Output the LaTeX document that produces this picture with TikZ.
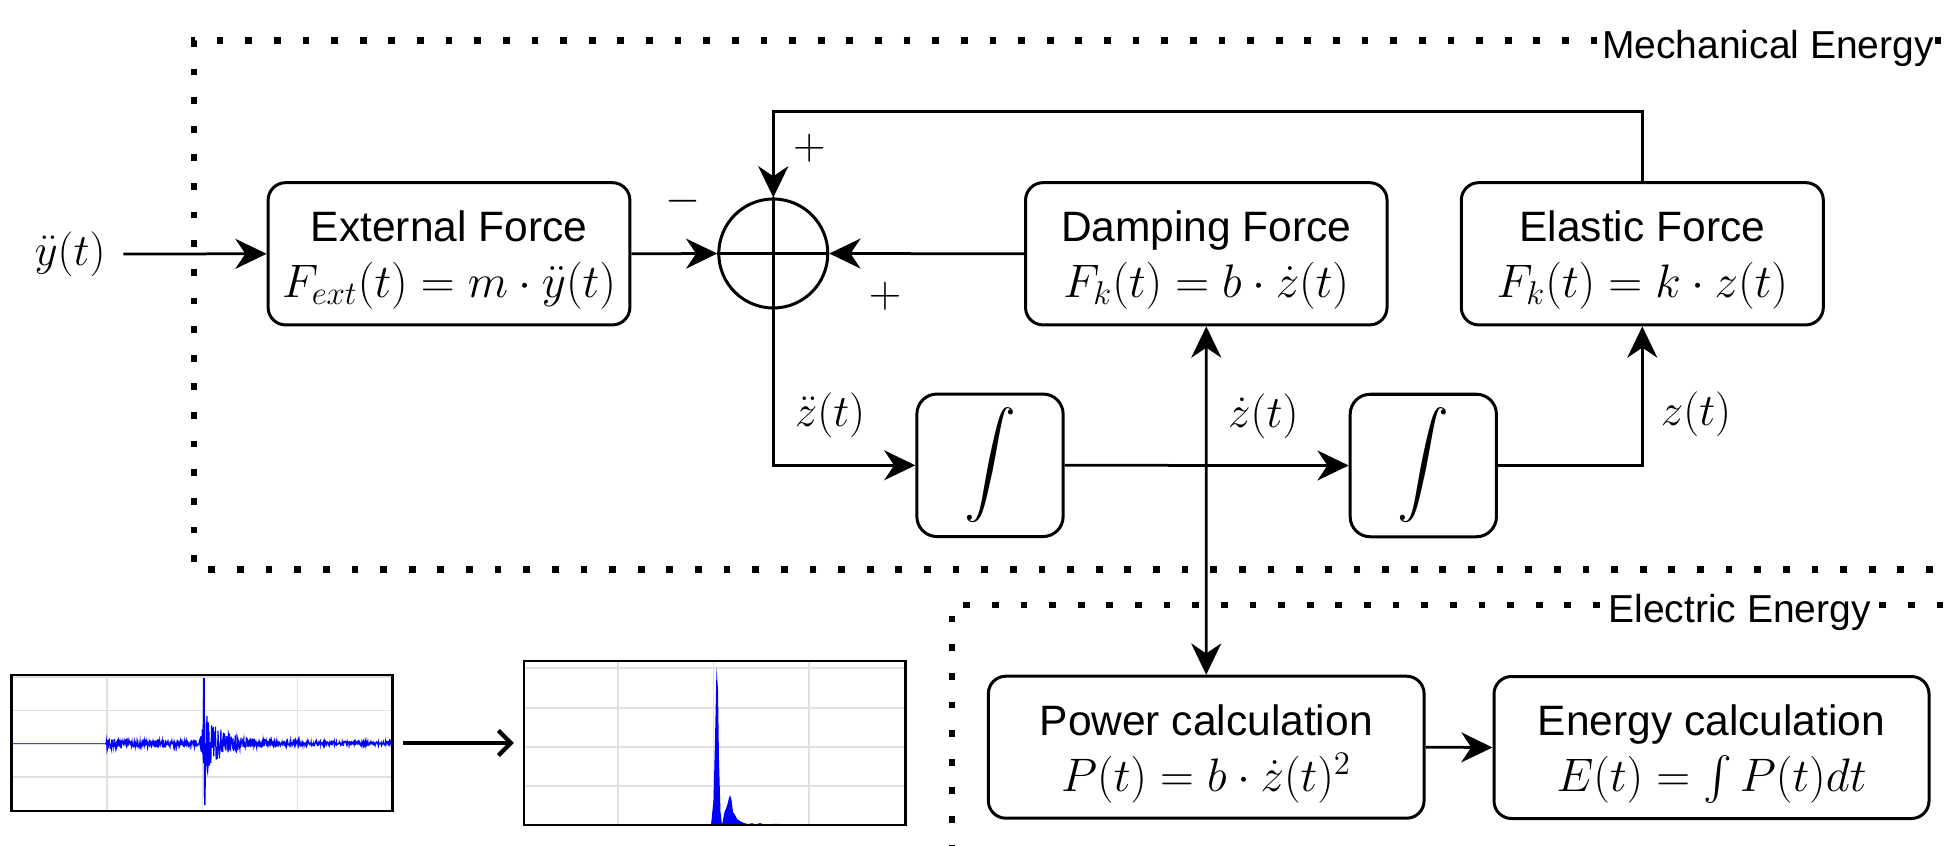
\RequirePackage{fix-cm}
\documentclass[tikz,border=0pt]{standalone}
\usepackage{amsmath}
\usepackage{fontspec}
\setmainfont{Liberation Sans}
\usetikzlibrary{arrows.meta,calc}
\newcommand\mth[1]{{\fontsize{18}{22.4}\selectfont$#1$}}
\newcommand\bmth[1]{{\fontsize{18.8}{22.4}\selectfont$#1$}}
\newcommand\tl{\rule{0pt}{17.5pt}}
\newcommand\intsym{{\fontsize{19.5}{24}\selectfont$\displaystyle\int$}}
\begin{document}
\begin{tikzpicture}[x=0.4pt,y=-0.4pt,
  blk/.style={draw, line width=1.2pt, rounded corners=7pt, align=center, inner sep=0pt,
              font=\fontsize{17}{22.4}\selectfont},
  intbox/.style={blk, rounded corners=8pt, minimum width=58.5pt, minimum height=57pt},
  con/.style={line width=1.1pt, -{Stealth[length=12.5pt,width=12pt,inset=4pt]}},
  con2/.style={line width=1.1pt, {Stealth[length=12.5pt,width=12pt,inset=4pt]}-{Stealth[length=12.5pt,width=12pt,inset=4pt]}},
  dotline/.style={line width=2.7pt, dash pattern=on 2.7pt off 8.75pt},
  gridln/.style={black!12, line width=0.7pt},
  mlab/.style={inner sep=0pt},
  elab/.style={fill=white, inner sep=0.6pt, font=\fontsize{15.6}{18}\selectfont, anchor=base},
  barb/.style={line width=1.7pt, -{Straight Barb[length=5pt,width=10pt]}}
]
\useasboundingbox (0,0) rectangle (1948,846);
\clip (0,0) rectangle (1948,846);

% energy domains
\draw[dotline] (1990,569.3) -- (194,569.3) -- (194,40.7) -- (1990,40.7);
\draw[dotline] (952,880) -- (952,605) -- (1990,605);
\node[elab] (mechlab) at (1768,58.3) {Mechanical Energy};
\node[elab] (eleclab) at (1739.7,622.7) {Electric Energy};

% blocks
\node[blk, minimum width=144.7pt, minimum height=56.9pt] (ext) at (449,253.8)
  {\tl External Force\\ \bmth{F_{ext}(t) = m\cdot\ddot{y}(t)}};
\node[blk, minimum width=144.6pt, minimum height=56.9pt] (damp) at (1206.3,253.8)
  {\tl Damping Force\\ \bmth{F_k(t) = b\cdot\dot{z}(t)}};
\node[blk, minimum width=144.8pt, minimum height=56.9pt] (ela) at (1642.3,253.8)
  {\tl Elastic Force\\ \bmth{F_k(t) = k\cdot z(t)}};
\node[draw, circle, line width=1.2pt, minimum size=43.6pt, inner sep=0pt] (sum) at (773.3,253.5) {};
\node[intbox] (int1) at (990,465.3) {\intsym};
\node[intbox] (int2) at (1423.3,465.5) {\intsym};
\node[blk, minimum width=174.3pt, minimum height=56.8pt] (pow) at (1206.2,747.2)
  {\tl Power calculation\\ \bmth{P(t) = b\cdot\dot{z}(t)^2}};
\node[blk, minimum width=174pt, minimum height=56.8pt] (en) at (1711.5,747.5)
  {\tl Energy calculation\\ \bmth{E(t) = \int P(t)dt}};

% input
\node[mlab] (yin) at (70,254) {\mth{\ddot{y}(t)}};

% summing junction cross
\draw[line width=1.1pt] (sum.north) -- (sum.south) (sum.west) -- (sum.east);

% connectors
\draw[con, shorten <=7pt] (yin.east) -- (ext.west);
\draw[con] (ext.east) -- (sum.west);
\draw[con] (damp.west) -- (sum.east);
\draw[con] (ela.north) -- ++(0,-69.4) -| (sum.north);
\draw[con] (sum.south) |- (int1.west);
\draw[con] (int1.east) -- (int2.west);
\draw[con] (int2.east) -| (ela.south);
\draw[con2] (damp.south) -- (pow.north);
\draw[con] (pow.east) -- (en.west);

% signs and signal labels
\node[mlab] (minus) at (683.3,201) {\mth{-}};
\node[mlab] (plustop) at (809.3,148.3) {\mth{+}};
\node[mlab] (plusbot) at (885,296.7) {\mth{+}};
\node[mlab] (zdd) at (830,415) {\mth{\ddot{z}(t)}};
\node[mlab] (zd) at (1263.3,416.7) {\mth{\dot{z}(t)}};
\node[mlab] (zz) at (1696,414.5) {\mth{z(t)}};

% plot 1 : seismogram
\foreach \gx in {107,202.5,297.5} \draw[gridln] (\gx,675) -- (\gx,811);
\foreach \gy in {677.3,710.6,744,777.3} \draw[gridln] (11.7,\gy) -- (392.7,\gy);
\draw[blue!75, line width=0.5pt] (11.7,743.3) -- (106,743.3);
\pgfmathsetseed{7}
\draw[blue, line width=0.45pt] plot[domain=106:392, samples=800]
  (\x, {743.3 + rand*((\x<=204)*3.8 + (\x>204)*(1.8 + 28*exp(-min(max(\x-204,0)/15,9)) + 4.5*exp(-min(max(\x-204,0)/60,9))) + 58*exp(-min(((\x-204)/2)^2,9)) + 5*exp(-min(abs(\x-108)/3,9)))});
\draw[blue, line width=0.6pt] (203.3,743) -- (204,678) -- (204.8,805) -- (205.5,743);
\node[draw, line width=1pt, minimum width=152.4pt, minimum height=54.4pt, inner sep=0pt] (p1) at (202.2,743) {};

% plot 2 : spectrum
\foreach \gx in {618,713.5,809} \draw[gridln] (\gx,661) -- (\gx,825);
\foreach \gy in {668.3,708.3,746.7,785.7} \draw[gridln] (524,\gy) -- (905.3,\gy);
\fill[blue] (711,825) -- (713.5,800) -- (715,740) -- (716.5,668) -- (718,690) -- (719,760) -- (720.5,812) -- (722,825) -- cycle;
\fill[blue] (722,825) -- (724.5,812) -- (727,806) -- (729,798) -- (730,795) -- (731.5,800) -- (733,812) -- (735,815) -- (737,819) -- (740,821) -- (744,823) -- (748,824) -- (752,823.2) -- (756,824.5) -- (760,823) -- (764,824.5) -- (776,823.8) -- (784,824.3) -- (790,825) -- cycle;
\node[draw, line width=1pt, minimum width=152.5pt, minimum height=65.6pt, inner sep=0pt] (p2) at (714.65,743) {};

\draw[barb, shorten <=3.6pt, shorten >=3.6pt] (p1.east) -- (p2.west);
\end{tikzpicture}
\end{document}
